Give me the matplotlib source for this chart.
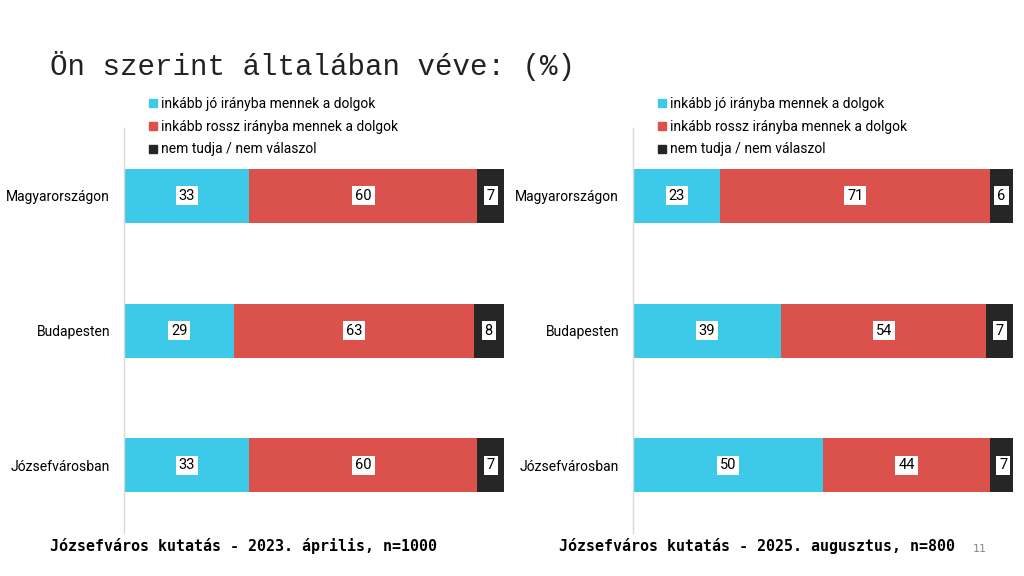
import numpy as np
import matplotlib
matplotlib.use("Agg")
import matplotlib.pyplot as plt
from matplotlib.lines import Line2D

# Data
categories = ["Magyarországon", "Budapesten", "Józsefvárosban"]
series_names = ["inkább jó irányba mennek a dolgok",
                "inkább rossz irányba mennek a dolgok",
                "nem tudja / nem válaszol"]
good_2023 = [33, 29, 33]
bad_2023 = [60, 63, 60]
dk_2023 = [7, 8, 7]
good_2025 = [23, 39, 50]
bad_2025 = [71, 54, 44]
dk_2025 = [6, 7, 7]
footnotes = ["Józsefváros kutatás - 2023. április, n=1000",
             "Józsefváros kutatás - 2025. augusztus, n=800"]

colors = ["#3DCAE8", "#DB514B", "#262626"]
body = ["Roboto", "DejaVu Sans"]

fig = plt.figure(figsize=(10.24, 5.76), dpi=100)
fig.patch.set_facecolor("white")

fig.text(50/1024, 1 - 66/576, "Ön szerint általában véve: (%)",
         family="Liberation Mono", fontsize=21, va="center", ha="left", color="#222222")


def draw_panel(left, good, bad, dk, note):
    ax = fig.add_axes([left, 0.0747, 0.371, 0.703])
    y = np.arange(len(categories))
    left_acc = np.zeros(len(categories))
    for vals, col, name in zip([good, bad, dk], colors, series_names):
        vals = np.array(vals, dtype=float)
        ax.barh(y, vals, left=left_acc, height=0.4, color=col, label=name)
        for yi, (l, v) in enumerate(zip(left_acc, vals)):
            ax.text(l + v / 2, yi, str(int(v)), ha="center", va="center",
                    fontsize=10.5, color="black", family=body,
                    bbox=dict(boxstyle="square,pad=0.2", fc="white", ec="none"))
        left_acc += vals
    ax.set_xlim(0, 100)
    ax.set_ylim(len(categories) - 0.5, -0.5)
    ax.set_yticks(y)
    ax.set_yticklabels(categories, fontsize=10, family=body)
    ax.tick_params(axis="y", length=0, pad=10)
    ax.set_xticks([])
    for s in ["top", "right", "bottom"]:
        ax.spines[s].set_visible(False)
    ax.spines["left"].set_color("#d9d9d9")
    ax.spines["left"].set_linewidth(1.0)

    handles = [Line2D([0], [0], marker="s", linestyle="none", markersize=6,
                      markerfacecolor=c, markeredgecolor=c) for c in colors]
    ax.legend(handles, series_names, loc="upper left", bbox_to_anchor=(0.045, 1.09),
              frameon=False, prop={"family": body, "size": 10}, handletextpad=0.1,
              labelspacing=0.62, handlelength=0.9, borderaxespad=0)

    fig.text(left - 74/1024, 1 - 546/576, note, family="DejaVu Sans Mono",
             fontweight="bold", fontsize=10.8, va="center", ha="left")
    return ax


draw_panel(124/1024, good_2023, bad_2023, dk_2023, footnotes[0])
draw_panel(633/1024, good_2025, bad_2025, dk_2025, footnotes[1])

fig.text(980/1024, 1 - 549/576, "11", fontsize=8, color="#888888", va="center", ha="center")

fig.savefig("out.png", dpi=100)
